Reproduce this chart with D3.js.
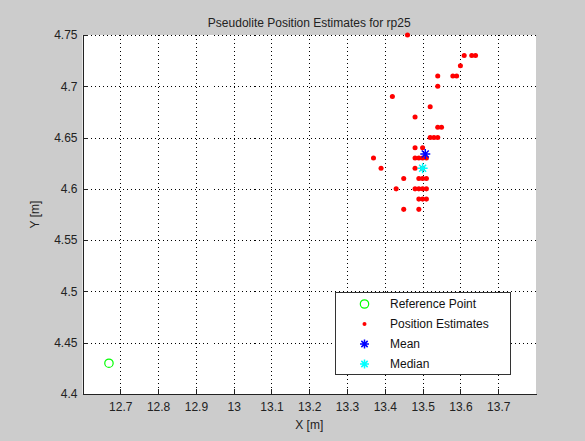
<!DOCTYPE html>
<html><head><meta charset="utf-8">
<script src="https://cdn.jsdelivr.net/npm/d3@7"></script>
<style>
html,body{margin:0;padding:0;background:#cccccc;}
svg{display:block;font-family:"Liberation Sans",Arial,sans-serif;}
</style></head>
<body>
<svg id="chart" width="585" height="441"></svg>
<script>
const title = "Pseudolite Position Estimates for rp25";
const xLabel = "X [m]";
const yLabel = "Y [m]";
const xTicks = [12.7,12.8,12.9,13.0,13.1,13.2,13.3,13.4,13.5,13.6,13.7];
const xTickLabels = ["12.7","12.8","12.9","13","13.1","13.2","13.3","13.4","13.5","13.6","13.7"];
const yTicks = [4.4,4.45,4.5,4.55,4.6,4.65,4.7,4.75];
const yTickLabels = ["4.4","4.45","4.5","4.55","4.6","4.65","4.7","4.75"];
const xDomain = [12.6, 13.8];
const yDomain = [4.4, 4.75];

const refPoint = {x: 12.67, y: 4.43};
const estX = [13.46,13.61,13.63,13.64,13.60,13.54,13.58,13.59,13.54,13.42,13.52,13.48,13.54,13.55,13.52,13.53,13.54,13.48,13.50,13.37,13.48,13.49,13.50,13.51,13.39,13.48,13.50,13.45,13.49,13.50,13.51,13.43,13.48,13.49,13.50,13.51,13.49,13.50,13.51,13.45,13.49];
const estY = [4.75,4.73,4.73,4.73,4.72,4.71,4.71,4.71,4.70,4.69,4.68,4.67,4.66,4.66,4.65,4.65,4.65,4.64,4.64,4.63,4.63,4.63,4.63,4.63,4.62,4.62,4.62,4.61,4.61,4.61,4.61,4.60,4.60,4.60,4.60,4.60,4.59,4.59,4.59,4.58,4.58];
const meanPoint = {x: 13.507, y: 4.634};
const medianPoint = {x: 13.50, y: 4.62};
const legendLabels = ["Reference Point","Position Estimates","Mean","Median"];

const svg = d3.select("#chart");
const L = 82.5, R = 536, T = 35, B = 394;
const x = d3.scaleLinear().domain(xDomain).range([L, R]);
const y = d3.scaleLinear().domain(yDomain).range([B, T]);

svg.append("rect").attr("x", L).attr("y", T).attr("width", R - L).attr("height", B - T).attr("fill", "#fff");

const g = svg.append("g").attr("shape-rendering", "crispEdges");
g.selectAll(".vg").data(xTicks).enter().append("line")
  .attr("x1", d => Math.round(x(d)) + 0.5).attr("x2", d => Math.round(x(d)) + 0.5)
  .attr("y1", T).attr("y2", B)
  .attr("stroke", "#000").attr("stroke-dasharray", "1,3");
g.selectAll(".hg").data(yTicks.slice(1)).enter().append("line")
  .attr("y1", d => Math.round(y(d)) + 0.5).attr("y2", d => Math.round(y(d)) + 0.5)
  .attr("x1", L).attr("x2", R)
  .attr("stroke", "#000").attr("stroke-dasharray", "1,3");

const xAxis = d3.axisBottom(x).tickValues(xTicks).tickSizeInner(-5).tickSizeOuter(0)
  .tickPadding(10).tickFormat((d, i) => xTickLabels[i]);
const yAxis = d3.axisLeft(y).tickValues(yTicks).tickSizeInner(-5).tickSizeOuter(0)
  .tickPadding(10).tickFormat((d, i) => yTickLabels[i]);

const gx = svg.append("g").attr("transform", `translate(0,${B})`).call(xAxis);
const gy = svg.append("g").attr("transform", `translate(${L},0)`).call(yAxis);
[gx, gy].forEach(a => {
  a.select(".domain").attr("stroke", "#222").attr("shape-rendering", "crispEdges");
  a.selectAll(".tick line").attr("stroke", "#222").attr("shape-rendering", "crispEdges");
  a.selectAll("text").attr("fill", "#222").attr("font-size", "12px")
    .attr("font-family", "'Liberation Sans',Arial,sans-serif");
});
gx.selectAll("text").attr("dy", "0.71em").attr("y", 8);
gy.selectAll("text").attr("x", -5);

svg.append("text").attr("x", (L + R) / 2).attr("y", 27).attr("text-anchor", "middle")
  .attr("font-size", "12px").attr("fill", "#222").text(title);
svg.append("text").attr("x", (L + R) / 2).attr("y", 429).attr("text-anchor", "middle")
  .attr("font-size", "12px").attr("fill", "#222").text(xLabel);
svg.append("text").attr("transform", `translate(39,${(T + B) / 2}) rotate(-90)`).attr("text-anchor", "middle")
  .attr("font-size", "12px").attr("fill", "#222").text(yLabel);

function star(gs, cx, cy, r, color) {
  const a = r * 0.7;
  const p = `M${cx - r},${cy}L${cx + r},${cy}M${cx},${cy - r}L${cx},${cy + r}M${cx - a},${cy - a}L${cx + a},${cy + a}M${cx - a},${cy + a}L${cx + a},${cy - a}`;
  gs.append("path").attr("d", p).attr("stroke", color).attr("stroke-width", 1.5).attr("fill", "none");
}

svg.append("circle").attr("cx", x(refPoint.x)).attr("cy", y(refPoint.y)).attr("r", 4.2)
  .attr("fill", "none").attr("stroke", "#00ff00").attr("stroke-width", 1.2);
svg.append("g").selectAll("path").data(estX.map((v, i) => [v, estY[i]])).enter().append("path")
  .attr("transform", d => `translate(${x(d[0])},${y(d[1])})`)
  .attr("d", d3.symbol().type(d3.symbolCircle).size(20))
  .attr("fill", "#ff0000");
star(svg, x(meanPoint.x), y(meanPoint.y), 5, "#0000ff");
star(svg, x(medianPoint.x), y(medianPoint.y), 5, "#00ffff");

const lg = svg.append("g");
lg.append("rect").attr("x", 335.5).attr("y", 292.5).attr("width", 175).attr("height", 82)
  .attr("fill", "#fff").attr("stroke", "#333").attr("shape-rendering", "crispEdges");
const rowY = [304, 324, 344, 364];
const mx = 364.5;
lg.append("circle").attr("cx", mx).attr("cy", rowY[0]).attr("r", 4.2).attr("fill", "none")
  .attr("stroke", "#00ff00").attr("stroke-width", 1.2);
lg.append("circle").attr("cx", mx).attr("cy", rowY[1]).attr("r", 2).attr("fill", "#ff0000");
star(lg, mx, rowY[2], 4.5, "#0000ff");
star(lg, mx, rowY[3], 4.5, "#00ffff");
lg.selectAll("text").data(legendLabels).enter().append("text")
  .attr("x", 390).attr("y", (d, i) => rowY[i]).attr("dy", "0.35em")
  .attr("font-size", "12px").attr("fill", "#111").text(d => d);
</script>
</body></html>
